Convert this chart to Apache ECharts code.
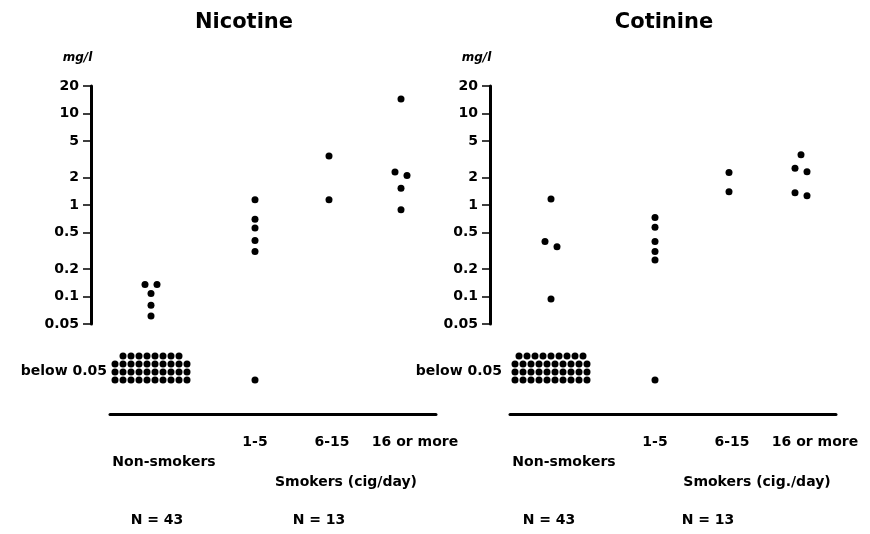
<!DOCTYPE html>
<html><head><meta charset="utf-8">
<script src="https://cdn.jsdelivr.net/npm/echarts@6/dist/echarts.min.js"></script>
<style>html,body{margin:0;padding:0;background:#fff}#c{width:870px;height:534px}</style>
</head><body><div id="c"></div>
<script>
// ---------- data ----------
const categories = ['Non-smokers', '1-5', '6-15', '16 or more'];
const yTickValues = [0.05, 0.1, 0.2, 0.5, 1, 2, 5, 10, 20];

// Nicotine (mg/l), measured values above detection limit
const nicNonSmokers = [0.135, 0.135, 0.108, 0.08, 0.061];
const nicSmk1to5 = [1.14, 0.70, 0.56, 0.41, 0.31];
const nicSmk6to15 = [3.43, 1.14];
const nicSmk16plus = [14.4, 2.3, 2.1, 1.52, 0.89];
// counts below 0.05 per category
const nicBelowCounts = [38, 1, 0, 0];

// Cotinine (mg/l)
const cotNonSmokers = [1.16, 0.40, 0.35, 0.094];
const cotSmk1to5 = [0.73, 0.57, 0.40, 0.31, 0.25];
const cotSmk6to15 = [2.26, 1.40];
const cotSmk16plus = [3.54, 2.53, 2.31, 1.36, 1.26];
const cotBelowCounts = [39, 1, 0, 0];

const panelTitles = ['Nicotine', 'Cotinine'];
const smokersLabels = ['Smokers (cig/day)', 'Smokers (cig./day)'];
const groupNLabels = ['N = 43', 'N = 13'];

// ---------- layout ----------
const FONT = 'DejaVu Sans';
const INK = '#000';
const Y_MIN = 0.05, Y_MAX = 20;
const GA_TOP = 86, GA_H = 238;
const GB_TOP = 350, GB_H = 64;
const GW = 326;
const catX = [41, 145, 219, 291];        // category centres in x-units (px inside grid)
const catLabelShift = [13, 0, 3, 14];    // label nudges (layout only)
const panels = [
  {left: 110, axisOffset: 19, belowMargin: 3, values: [nicNonSmokers, nicSmk1to5, nicSmk6to15, nicSmk16plus], below: nicBelowCounts},
  {left: 510, axisOffset: 20, belowMargin: 8, values: [cotNonSmokers, cotSmk1to5, cotSmk6to15, cotSmk16plus], below: cotBelowCounts}
];
const pxPerDecade = GA_H / Math.log10(Y_MAX / Y_MIN);
const DOT = 7, CLUSTER_PX = 8, SIDE = 12, GRID_STEP = 8, PER_ROW = 10;

// simple swarm: values closer than CLUSTER_PX vertically are put side by side
function swarm(vals, cx) {
  const s = vals.slice().sort((a, b) => b - a);
  const out = [];
  let i = 0;
  while (i < s.length) {
    let j = i + 1;
    while (j < s.length && (Math.log10(s[j - 1]) - Math.log10(s[j])) * pxPerDecade < CLUSTER_PX) j++;
    const k = j - i;
    for (let m = 0; m < k; m++) out.push([cx + (m - (k - 1) / 2) * SIDE, s[i + m]]);
    i = j;
  }
  return out;
}
function belowGrid(n, cx) {
  const out = [];
  for (let r = 0; r * PER_ROW < n; r++) {
    const cnt = Math.min(PER_ROW, n - r * PER_ROW);
    for (let c = 0; c < cnt; c++) out.push([cx + (c - (cnt - 1) / 2) * GRID_STEP, r]);
  }
  return out;
}

const grid = [], xAxis = [], yAxis = [], series = [], title = [];
const txt = (size, extra) => Object.assign({fontFamily: FONT, fontWeight: 'bold', fontSize: size, color: INK}, extra || {});
const labelPos = catX.map((x, i) => x + catLabelShift[i]);

panels.forEach((p, pi) => {
  const gA = grid.length;
  grid.push({left: p.left, top: GA_TOP, width: GW, height: GA_H});
  grid.push({left: p.left, top: GB_TOP, width: GW, height: GB_H});
  const gB = gA + 1;
  const xA = xAxis.length;
  xAxis.push({type: 'value', gridIndex: gA, min: 0, max: GW, show: false});
  const xB = xAxis.length;
  xAxis.push({type: 'value', gridIndex: gB, position: 'bottom', min: 0, max: GW,
    axisLine: {show: true, onZero: false, lineStyle: {color: INK, width: 3}},
    axisTick: {show: false}, splitLine: {show: false},
    axisLabel: {customValues: labelPos.slice(1), margin: 21, formatter: v => categories[labelPos.indexOf(v)], ...txt(14)}});
  xAxis.push({type: 'value', gridIndex: gB, position: 'bottom', offset: 0, min: 0, max: GW,
    axisLine: {show: false, onZero: false}, axisTick: {show: false}, splitLine: {show: false},
    axisLabel: {customValues: [labelPos[0]], margin: 41, formatter: () => categories[0], ...txt(14)}});
  const yA = yAxis.length;
  yAxis.push({type: 'log', logBase: 10, gridIndex: gA, position: 'left', min: Y_MIN, max: Y_MAX, offset: p.axisOffset,
    axisLine: {show: true, onZero: false, lineStyle: {color: INK, width: 3}},
    axisTick: {show: true, customValues: yTickValues, length: 8, lineStyle: {color: INK, width: 1.5}},
    axisLabel: {customValues: yTickValues, margin: 12, formatter: v => String(parseFloat(Number(v).toPrecision(3))), ...txt(14)},
    splitLine: {show: false},
    name: 'mg/l', nameLocation: 'end', nameGap: 22,
    nameTextStyle: {fontFamily: FONT, fontWeight: 'bold', fontStyle: 'italic', fontSize: 12, color: INK, padding: [0, 27, 0, 0]}});
  const yB = yAxis.length;
  yAxis.push({type: 'value', gridIndex: gB, position: 'left', min: -4.25, max: 3.75,
    axisLine: {show: false, onZero: false}, axisTick: {show: false}, splitLine: {show: false},
    axisLabel: {customValues: [1.125], margin: p.belowMargin, formatter: () => 'below 0.05', ...txt(14)}});

  let above = [], below = [];
  p.values.forEach((vals, ci) => { above = above.concat(swarm(vals, catX[ci])); });
  p.below.forEach((n, ci) => { below = below.concat(belowGrid(n, catX[ci])); });
  series.push({type: 'scatter', xAxisIndex: xA, yAxisIndex: yA, data: above, symbolSize: DOT, itemStyle: {color: INK, opacity: 1}, silent: true});
  series.push({type: 'scatter', xAxisIndex: xB, yAxisIndex: yB, data: below, symbolSize: DOT, itemStyle: {color: INK, opacity: 1}, silent: true});

  title.push({text: panelTitles[pi], left: pi === 0 ? 244 : 664, top: 23, padding: 0, textAlign: 'center', textVerticalAlign: 'middle', textStyle: txt(21)});
  title.push({text: smokersLabels[pi], left: pi === 0 ? 346 : 757, top: 482, padding: 0, textAlign: 'center', textVerticalAlign: 'middle', textStyle: txt(14)});
  title.push({text: groupNLabels[0], left: pi === 0 ? 157 : 549, top: 520, padding: 0, textAlign: 'center', textVerticalAlign: 'middle', textStyle: txt(14)});
  title.push({text: groupNLabels[1], left: pi === 0 ? 319 : 708, top: 520, padding: 0, textAlign: 'center', textVerticalAlign: 'middle', textStyle: txt(14)});
});

const chart = echarts.init(document.getElementById('c'), null, {renderer: 'canvas'});
chart.setOption({backgroundColor: '#fff', animation: false, title, grid, xAxis, yAxis, series});
</script></body></html>
